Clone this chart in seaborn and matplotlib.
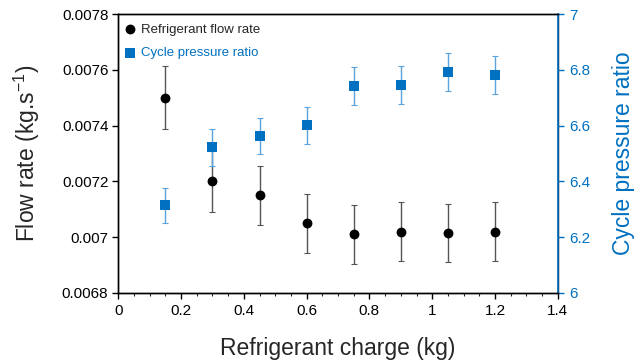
import matplotlib
matplotlib.use("Agg")
import matplotlib.pyplot as plt
import seaborn as sns
import pandas as pd
from matplotlib.ticker import MultipleLocator, FuncFormatter

sns.set_theme(style="white")
plt.rcParams["font.family"] = ["Liberation Sans", "DejaVu Sans"]

charge = [0.15, 0.30, 0.45, 0.60, 0.75, 0.90, 1.05, 1.20]
flow_rate = [0.00750, 0.00720, 0.00715, 0.00705, 0.00701, 0.00702, 0.007015, 0.00702]
flow_err = [0.000113, 0.000108, 0.000107, 0.000106, 0.000105, 0.000105, 0.000105, 0.000105]
pressure_ratio = [6.315, 6.523, 6.563, 6.602, 6.742, 6.746, 6.792, 6.781]
pressure_err = [0.063, 0.066, 0.066, 0.066, 0.067, 0.067, 0.068, 0.068]

BLUE = "#0070C0"

df = pd.DataFrame({"charge": charge, "flow": flow_rate, "ferr": flow_err,
                   "pr": pressure_ratio, "perr": pressure_err})

fig = plt.figure(figsize=(6.39, 3.63), dpi=100)
ax = fig.add_axes([0.185, 0.193, 0.688, 0.768])
ax2 = ax.twinx()

# Flow rate (left axis)
ax.errorbar(df["charge"], df["flow"], yerr=df["ferr"], fmt="none",
            ecolor="#555555", elinewidth=1.0, capsize=2.2, capthick=0.8, zorder=2)
sns.scatterplot(data=df, x="charge", y="flow", ax=ax, marker="o", s=50,
                color="black", edgecolor="black", linewidth=0, zorder=3,
                label="Refrigerant flow rate", legend=False)

# Pressure ratio (right axis)
ax2.errorbar(df["charge"], df["pr"], yerr=df["perr"], fmt="none",
             ecolor="#5BA3DC", elinewidth=1.0, capsize=2.2, capthick=0.8, zorder=2)
sns.scatterplot(data=df, x="charge", y="pr", ax=ax2, marker="s", s=48,
                color=BLUE, edgecolor=BLUE, linewidth=0, zorder=3,
                label="Cycle pressure ratio", legend=False)

ax.set_xlim(0, 1.4)
ax.set_ylim(0.0068, 0.0078)
ax2.set_ylim(6, 7)

ax.xaxis.set_major_locator(MultipleLocator(0.2))
ax.xaxis.set_minor_locator(MultipleLocator(0.05))
ax.yaxis.set_major_locator(MultipleLocator(0.0002))
ax2.yaxis.set_major_locator(MultipleLocator(0.2))

ax.xaxis.set_major_formatter(FuncFormatter(lambda v, p: f"{v:g}"))
ax.yaxis.set_major_formatter(FuncFormatter(lambda v, p: f"{v:.4f}".rstrip("0")))
ax2.yaxis.set_major_formatter(FuncFormatter(lambda v, p: f"{v:g}"))

for a in (ax, ax2):
    for s in a.spines.values():
        s.set_visible(True)
        s.set_color("black")
        s.set_linewidth(1.0)
ax2.spines["right"].set_color(BLUE)
ax2.spines["right"].set_linewidth(1.2)

ax.tick_params(axis="x", which="major", direction="out", length=4, width=1,
               labelsize=11, colors="black", bottom=True, pad=4)
ax.tick_params(axis="x", which="minor", direction="out", length=2.5, width=0.8,
               bottom=True)
ax.tick_params(axis="y", which="major", direction="out", length=4, width=1,
               labelsize=11, colors="black", left=True, pad=3)
ax2.tick_params(axis="y", which="major", direction="out", length=4, width=1,
                labelsize=11, colors=BLUE, right=True, pad=4)

ax.set_xlabel("Refrigerant charge (kg)", fontsize=16.5, labelpad=13.5)
ax.set_ylabel("Flow rate (kg.s$^{\\mathregular{-1}}$)", fontsize=16.5, labelpad=14.5)
ax2.set_ylabel("Cycle pressure ratio", fontsize=16.5, color=BLUE, labelpad=16)

h1, l1 = ax.get_legend_handles_labels()
h2, l2 = ax2.get_legend_handles_labels()
leg = ax.legend(h1 + h2, l1 + l2, loc="upper left", frameon=False, fontsize=9.5,
                handletextpad=0.3, borderaxespad=0.0, labelspacing=0.85,
                handlelength=1.0, bbox_to_anchor=(0.0, 0.985))
leg.get_texts()[1].set_color(BLUE)

fig.savefig("out.png", dpi=100)
